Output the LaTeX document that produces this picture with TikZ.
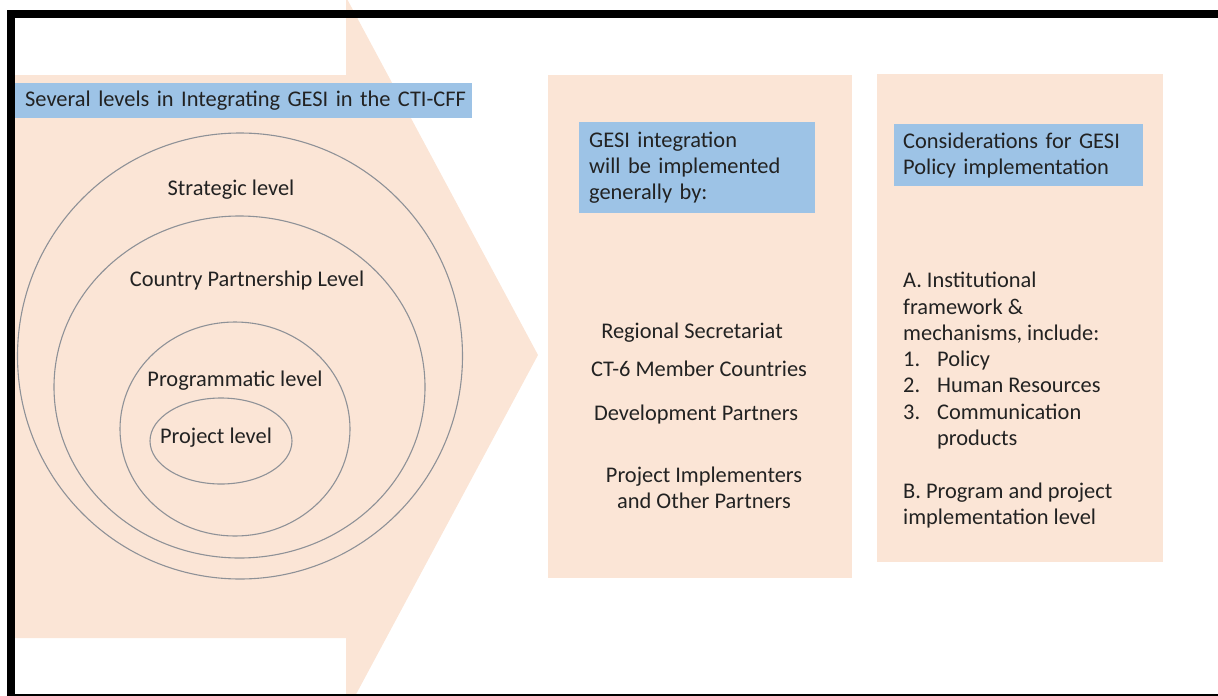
\documentclass[tikz,border=0pt]{standalone}
\usepackage{fontspec}
\setmainfont{Carlito}
\usetikzlibrary{positioning}
\definecolor{panelorange}{HTML}{FBE5D6}
\definecolor{headblue}{HTML}{9DC3E6}
\definecolor{ringgray}{HTML}{8E9197}
\definecolor{inktext}{HTML}{222222}
\tikzset{
    panel/.style={fill=panelorange,draw=none,rectangle,anchor=north west,inner sep=0pt},
    headbox/.style={fill=headblue,draw=none,rectangle,anchor=north west,inner ysep=0pt,align=left},
    ring/.style={draw=ringgray,line width=1.1pt},
    lvl/.style={inner sep=0pt}
}

\begin{document}
\begin{tikzpicture}[x=1pt,y=-1pt,font=\fontsize{22.4}{26.3}\selectfont,text=inktext]
    \useasboundingbox (0,0) rectangle (1218,696);
    \begin{scope}
        \clip (0,0) rectangle (1218,696);
        \fill[panelorange] (15,75) -- (346,75) -- (346,-3) -- (538,355) -- (346,713)
            -- (346,638) -- (15,638) -- cycle;
    \end{scope}

    \draw[ring] (240,356) ellipse [x radius=222.5pt, y radius=223pt];
    \draw[ring] (239.5,387) ellipse [x radius=185.5pt, y radius=171pt];
    \draw[ring] (235,429) ellipse [x radius=115pt, y radius=107pt];
    \draw[ring] (221,441) ellipse [x radius=71pt, y radius=43pt];

    \node[headbox, text width=447pt, inner xsep=5pt, minimum height=35pt] (title) at (15,83)
        {\hspace*{5pt}Several levels in Integrating GESI in the CTI-CFF};
    \node[lvl] (strat) at (231,190) {Strategic level};
    \node[lvl] (country) at (247,281) {Country Partnership Level};
    \node[lvl] (prog) at (235,381) {Programmatic level};
    \node[lvl] (proj) at (216,438) {Project level};

    \node[panel, minimum width=304pt, minimum height=503pt] (midpanel) at (548,75) {};
    \node[headbox, text width=216pt, inner xsep=10pt, minimum height=91pt] (midhead) at (579,122)
        {GESI integration\\will be implemented\\generally by:};
    \node[lvl] (regsec) at (692,333) {Regional Secretariat};
    \node[lvl] (ct6) at (699,369) {CT-6 Member Countries};
    \node[lvl] (devpart) at (696,415) {Development Partners};
    \node[lvl, align=center] (implem) at (704,488) {Project Implementers\\and Other Partners};

    \node[panel, minimum width=286pt, minimum height=488pt] (rightpanel) at (877,74) {};
    \node[headbox, text width=231pt, inner xsep=9pt, minimum height=62pt] (righthead) at (894,124)
        {Considerations for GESI\\Policy implementation};
    \node[lvl, anchor=north west, align=left] (rightlist) at (903,272)
        {A. Institutional\\framework \&\\mechanisms, include:\\
         \makebox[34pt][l]{1.}Policy\\
         \makebox[34pt][l]{2.}Human Resources\\
         \makebox[34pt][l]{3.}Communication\\
         \hspace*{34pt}products\\[26.3pt]
         B. Program and project\\implementation level};

    \fill[black] (7,10) rectangle (1218,17.5);
    \fill[black] (7,10) rectangle (15,696);
    \draw[black, line width=1.3pt] (15,695) -- (1218,695);
\end{tikzpicture}
\end{document}
